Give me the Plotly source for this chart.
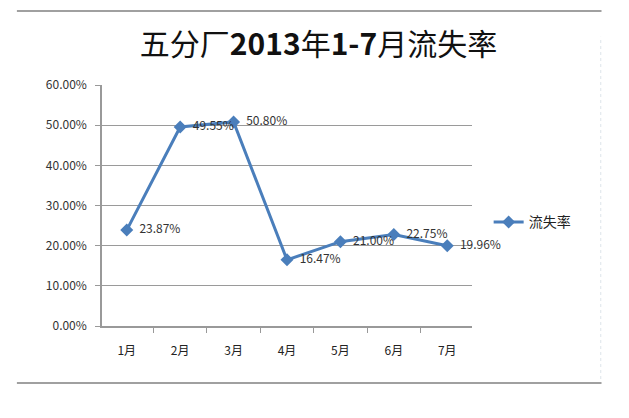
import plotly.graph_objs as go

months = ['1月', '2月', '3月', '4月', '5月', '6月', '7月']
loss_rate = [0.2387, 0.4955, 0.5080, 0.1647, 0.2100, 0.2275, 0.1996]
y_ticks = [0, 0.1, 0.2, 0.3, 0.4, 0.5, 0.6]

font_cn = "Noto Sans CJK SC, DejaVu Sans, sans-serif"
blue = '#4A7EBB'

# page body has an 8px margin, so the figure is a bit smaller than the window
fig = go.Figure()
fig.add_trace(go.Scatter(
	x=months, y=loss_rate, name='流失率',
	mode='lines+markers+text',
	line=dict(color=blue, width=3),
	marker=dict(symbol='diamond', size=10, color=blue),
	texttemplate='  %{y:.2%}', textposition='middle right',
	textfont=dict(family=font_cn, size=12, color='#333333'),
	cliponaxis=False
))

fig.update_layout(
	width=621, height=410,
	margin=dict(l=94, r=157, t=77, b=92),
	paper_bgcolor='white', plot_bgcolor='white',
	title=dict(text='五分厂<b>2013</b>年<b>1-7</b>月流失率', x=0.5, xanchor='center',
		y=0.91, yanchor='middle',
		font=dict(family=font_cn, size=30, color='#111111')),
	showlegend=True,
	legend=dict(x=1.045, y=0.43, xanchor='left', yanchor='middle',
		font=dict(family=font_cn, size=14, color='#222222'),
		bgcolor='rgba(0,0,0,0)'),
	font=dict(family=font_cn, size=11, color='#333333'),
	shapes=[
		dict(type='line', xref='paper', yref='paper', x0=-0.23, x1=1.35, y0=1.307, y1=1.307,
			line=dict(color='#a0a0a0', width=2)),
		dict(type='line', xref='paper', yref='paper', x0=-0.23, x1=1.35, y0=-0.237, y1=-0.237,
			line=dict(color='#a0a0a0', width=2)),
		dict(type='line', xref='paper', yref='paper', x0=1.348, x1=1.348, y0=-0.22, y1=1.2,
			line=dict(color='#dde4ea', width=1, dash='dot')),
	]
)

fig.update_xaxes(
	type='category', tickson='boundaries', ticks='outside', ticklen=5,
	tickcolor='#999999', showline=True, linecolor='#999999', linewidth=1.5,
	showgrid=False, tickfont=dict(size=12, color='#222222'), ticklabelstandoff=13
)
fig.update_yaxes(
	range=[0, 0.6], tickvals=y_ticks, tickformat='.2%',
	ticks='outside', ticklen=5, tickcolor='#999999',
	showline=True, linecolor='#999999', linewidth=1.5,
	showgrid=True, gridcolor='#9a9a9a', gridwidth=1.2, zeroline=False,
	tickfont=dict(size=12, color='#333333'), ticklabelstandoff=6
)

fig.write_html("out.html")
